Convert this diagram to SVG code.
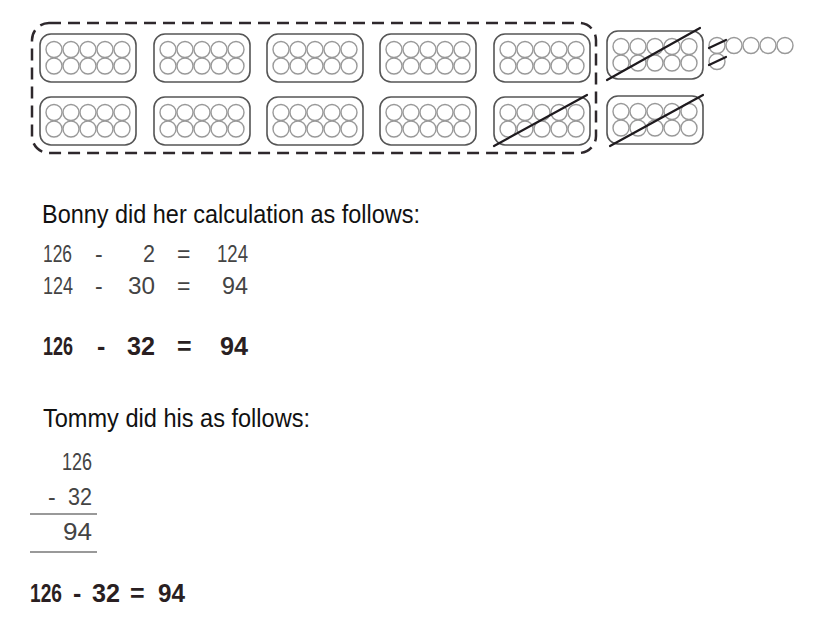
<svg xmlns="http://www.w3.org/2000/svg" xmlns:xlink="http://www.w3.org/1999/xlink" width="822" height="630" viewBox="0 0 822 630">
<style>
.tray{fill:none;stroke:#555;stroke-width:1.6}
.c{fill:none;stroke:#999;stroke-width:1.4}
.slash{stroke:#1e1a1e;stroke-width:2.2;stroke-linecap:round}
.title{font-family:"Liberation Sans",Arial,sans-serif;font-size:25px;fill:#111}
.n{font-family:"Liberation Sans",Arial,sans-serif;font-size:23px;fill:#444}
.b{font-family:"Liberation Sans",Arial,sans-serif;font-size:25px;font-weight:bold;fill:#2a1f22}
.rule{stroke:#777;stroke-width:1.5}
</style>
<defs>
<g id="t">
<rect class="tray" x="0" y="0" width="96" height="48" rx="11"/>
<circle class="c" cx="14" cy="15.5" r="8"/><circle class="c" cx="31" cy="15.5" r="8"/><circle class="c" cx="48" cy="15.5" r="8"/><circle class="c" cx="65" cy="15.5" r="8"/><circle class="c" cx="82" cy="15.5" r="8"/>
<circle class="c" cx="14" cy="32" r="8"/><circle class="c" cx="31" cy="32" r="8"/><circle class="c" cx="48" cy="32" r="8"/><circle class="c" cx="65" cy="32" r="8"/><circle class="c" cx="82" cy="32" r="8"/>
</g>
</defs>
<rect width="822" height="630" fill="#fff"/>
<g id="group-boundary">
<rect x="32" y="23" width="564" height="130" rx="17" fill="none" stroke="#2e282c" stroke-width="2.5" stroke-dasharray="12 7"/>
</g>
<g id="trays">
<use xlink:href="#t" x="40" y="34"/>
<use xlink:href="#t" x="154" y="34"/>
<use xlink:href="#t" x="267" y="34"/>
<use xlink:href="#t" x="380" y="34"/>
<use xlink:href="#t" x="494" y="34"/>
<use xlink:href="#t" x="607" y="31"/>
<use xlink:href="#t" x="40" y="97"/>
<use xlink:href="#t" x="154" y="97"/>
<use xlink:href="#t" x="267" y="97"/>
<use xlink:href="#t" x="380" y="97"/>
<use xlink:href="#t" x="494" y="97"/>
<use xlink:href="#t" x="607" y="96"/>
</g>
<g id="loose-ones">
<circle class="c" cx="717" cy="45.5" r="8"/>
<circle class="c" cx="734" cy="45.5" r="8"/>
<circle class="c" cx="751" cy="45.5" r="8"/>
<circle class="c" cx="768" cy="45.5" r="8"/>
<circle class="c" cx="785" cy="45.5" r="8"/>
<circle class="c" cx="717" cy="61.5" r="8"/>
</g>
<g id="crossings">
<line class="slash" x1="607" y1="80" x2="700" y2="28"/>
<line class="slash" x1="610" y1="146" x2="703" y2="95"/>
<line class="slash" x1="494" y1="146" x2="587" y2="95"/>
<line class="slash" x1="709" y1="48" x2="726" y2="40"/>
<line class="slash" x1="709" y1="65" x2="726" y2="57"/>
</g>
<g id="bonny">
<text class="title" x="42" y="223" textLength="378" lengthAdjust="spacingAndGlyphs">Bonny did her calculation as follows:</text>
<text class="n" x="43" y="262" textLength="29" lengthAdjust="spacingAndGlyphs">126</text>
<text class="n" x="95" y="262">-</text>
<text class="n" x="155" y="262" text-anchor="end" textLength="12" lengthAdjust="spacingAndGlyphs">2</text>
<text class="n" x="177" y="262">=</text>
<text class="n" x="217" y="262" textLength="31" lengthAdjust="spacingAndGlyphs">124</text>
<text class="n" x="43" y="294" textLength="30" lengthAdjust="spacingAndGlyphs">124</text>
<text class="n" x="95" y="294">-</text>
<text class="n" x="128" y="294" textLength="27" lengthAdjust="spacingAndGlyphs">30</text>
<text class="n" x="177" y="294">=</text>
<text class="n" x="222" y="294" textLength="26" lengthAdjust="spacingAndGlyphs">94</text>
<text class="b" x="43" y="355" textLength="30" lengthAdjust="spacingAndGlyphs">126</text>
<text class="b" x="97" y="355">-</text>
<text class="b" x="127" y="355" textLength="28" lengthAdjust="spacingAndGlyphs">32</text>
<text class="b" x="177" y="355">=</text>
<text class="b" x="220" y="355" textLength="28" lengthAdjust="spacingAndGlyphs">94</text>
</g>
<g id="tommy">
<text class="title" x="43" y="427" textLength="267" lengthAdjust="spacingAndGlyphs">Tommy did his as follows:</text>
<text class="n" x="62" y="470" textLength="30" lengthAdjust="spacingAndGlyphs">126</text>
<text class="n" x="48" y="505">-</text>
<text class="n" x="68" y="505" textLength="24" lengthAdjust="spacingAndGlyphs">32</text>
<line class="rule" x1="30" y1="514" x2="97" y2="514"/>
<text class="n" x="63" y="540" textLength="29" lengthAdjust="spacingAndGlyphs">94</text>
<line class="rule" x1="30" y1="552" x2="97" y2="552"/>
<text class="b" x="30" y="602" textLength="32" lengthAdjust="spacingAndGlyphs">126</text>
<text class="b" x="73" y="602">-</text>
<text class="b" x="92" y="602" textLength="28" lengthAdjust="spacingAndGlyphs">32</text>
<text class="b" x="130" y="602">=</text>
<text class="b" x="158" y="602" textLength="27" lengthAdjust="spacingAndGlyphs">94</text>
</g>
</svg>
